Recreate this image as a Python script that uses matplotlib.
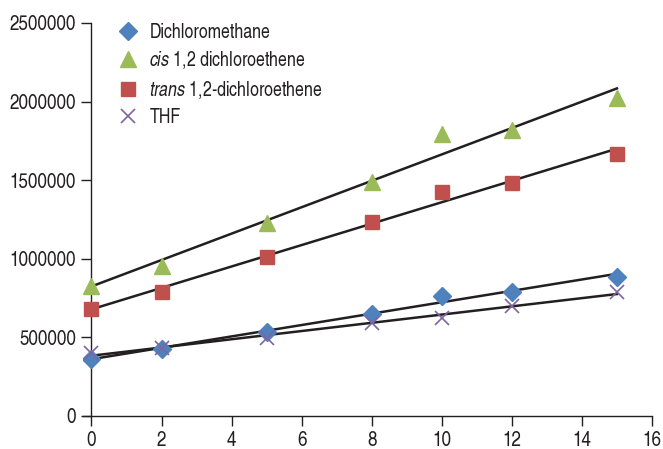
import numpy as np
import matplotlib
matplotlib.use("Agg")
import matplotlib.pyplot as plt

FONT = 'TeX Gyre Heros Cn'
plt.rcParams['font.family'] = [FONT, 'DejaVu Sans']
plt.rcParams['mathtext.fontset'] = 'custom'
plt.rcParams['mathtext.rm'] = FONT
plt.rcParams['mathtext.it'] = FONT + ':italic'

time_x = [0, 2, 5, 8, 10, 12, 15]
dichloromethane = [362000, 426000, 534000, 649000, 765000, 791000, 886000]
cis_dce = [830000, 954000, 1228000, 1490000, 1794000, 1819000, 2021000]
trans_dce = [679000, 791000, 1013000, 1236000, 1423000, 1484000, 1667000]
thf = [403000, 432000, 498000, 594000, 625000, 702000, 791000]

labels = ["Dichloromethane", r"$\it{cis}$ 1,2 dichloroethene",
          r"$\it{trans}$ 1,2-dichloroethene", "THF"]
y_ticks = [0, 500000, 1000000, 1500000, 2000000, 2500000]
x_ticks = [0, 2, 4, 6, 8, 10, 12, 14, 16]

fig = plt.figure(figsize=(6.63, 4.49), dpi=100)
ax = fig.add_axes([0.1247, 0.0735, 0.9834 - 0.1247, 0.9488 - 0.0735])

series = [
    (dichloromethane, dict(marker='D', color='#4F81BD', markersize=9, linestyle='none')),
    (cis_dce, dict(marker='^', color='#9BBB59', markersize=11, linestyle='none')),
    (trans_dce, dict(marker='s', color='#C0504D', markersize=10.5, linestyle='none')),
    (thf, dict(marker='x', color='#8064A2', markersize=10, markeredgewidth=1.2, linestyle='none')),
]

xs = np.array(time_x, dtype=float)
for (vals, style), lab in zip(series, labels):
    ax.plot(xs, vals, label=lab, zorder=3, **style)
    slope, icpt = np.polyfit(xs, vals, 1)
    ax.plot([xs[0], xs[-1]], [icpt + slope * xs[0], icpt + slope * xs[-1]],
            color='#231f20', linewidth=1.8, zorder=2)

ax.set_xlim(-0.25, 16)
ax.set_ylim(0, 2500000)
ax.set_xticks(x_ticks)
ax.set_yticks(y_ticks)
ax.set_yticklabels([str(v) for v in y_ticks])
ax.spines['top'].set_visible(False)
ax.spines['right'].set_visible(False)
ax.spines['left'].set_position(('data', 0))
for s in ('left', 'bottom'):
    ax.spines[s].set_color('#231f20')
    ax.spines[s].set_linewidth(1.0)
ax.tick_params(direction='out', length=7, width=1.0, color='#231f20',
               labelsize=15, labelcolor='#231f20', pad=4)

leg = ax.legend(loc='upper left', bbox_to_anchor=(0.03, 1.045), frameon=False,
                fontsize=14, labelspacing=0.38, handletextpad=0.55,
                handlelength=1.1, labelcolor='#231f20')

fig.savefig("out.png", dpi=100)
